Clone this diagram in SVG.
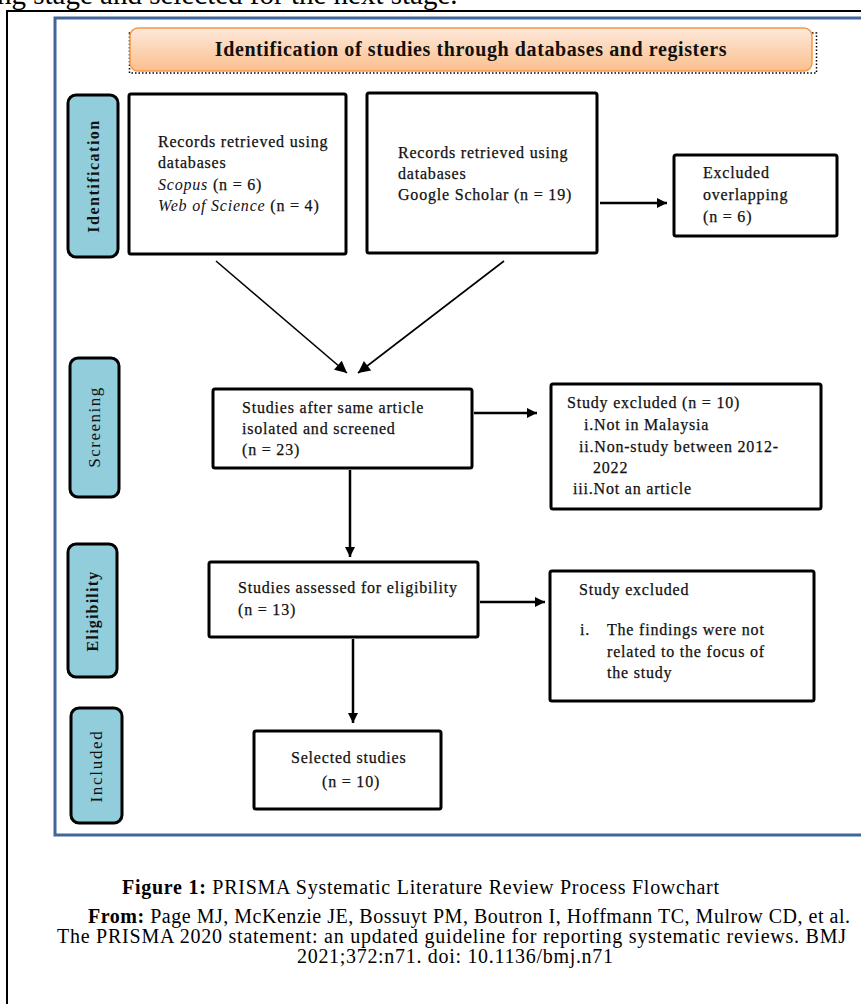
<svg xmlns="http://www.w3.org/2000/svg" width="861" height="1004" viewBox="0 0 861 1004">
<defs>
<style>
.t{font-family:"Liberation Serif","Times New Roman",serif;font-size:16px;letter-spacing:0.8px;fill:#111;stroke:#111;stroke-width:0.25px}
.box{fill:#fff;stroke:#000;stroke-width:3}
.lab{fill:#92cddc;stroke:#000;stroke-width:3}
.lt{font-family:"Liberation Serif","Times New Roman",serif;fill:#111;text-anchor:middle}
.arr{stroke:#000;stroke-width:2.5;fill:none}
.diag{stroke:#000;stroke-width:1.6;fill:none}
.cap{font-family:"Liberation Serif","Times New Roman",serif;font-size:20px;fill:#000}
</style>
<linearGradient id="hg" x1="0" y1="0" x2="0" y2="1">
<stop offset="0" stop-color="#fde9da"/>
<stop offset="1" stop-color="#fbbf8e"/>
</linearGradient>
<marker id="ah" viewBox="0 0 10 10" refX="10" refY="5" markerWidth="11" markerHeight="10" markerUnits="userSpaceOnUse" orient="auto">
<path d="M0,0 L10,5 L0,10 z" fill="#000"/>
</marker>
<marker id="ahd" viewBox="0 0 10 10" refX="10" refY="5" markerWidth="14" markerHeight="12" markerUnits="userSpaceOnUse" orient="auto">
<path d="M0,0 L10,5 L0,10 z" fill="#000"/>
</marker>
</defs>
<rect width="861" height="1004" fill="#fff"/>
<text x="-3" y="4" font-family="Liberation Serif, serif" font-size="29" fill="#000">ng stage and selected for the next stage.</text>
<rect x="7" y="11" width="900" height="1100" fill="none" stroke="#000" stroke-width="2"/>
<rect x="55" y="18" width="900" height="817" fill="none" stroke="#41679a" stroke-width="3"/>

<g id="header">
<rect x="129.5" y="33" width="687" height="40" fill="none" stroke="#000" stroke-width="1.5" stroke-dasharray="1.5 2"/>
<rect x="130" y="28" width="682" height="43" rx="8" fill="url(#hg)" stroke="#f79646" stroke-width="1.5"/>
<text x="471" y="56" text-anchor="middle" font-family="Liberation Serif, serif" font-size="20" font-weight="bold" letter-spacing="0.6" fill="#111">Identification of studies through databases and registers</text>
</g>

<g id="label-identification">
<rect class="lab" x="68" y="95" width="50" height="162" rx="8"/>
<text class="lt" transform="translate(99,176) rotate(-90)" font-size="16" font-weight="bold" letter-spacing="1.5">Identification</text>
</g>
<g id="label-screening">
<rect class="lab" x="70" y="358" width="49" height="139" rx="8"/>
<text class="lt" transform="translate(100,427) rotate(-90)" font-size="17" letter-spacing="1.5">Screening</text>
</g>
<g id="label-eligibility">
<rect class="lab" x="68" y="544" width="49" height="133" rx="8"/>
<text class="lt" transform="translate(98,611) rotate(-90)" font-size="16" font-weight="bold" letter-spacing="1.2">Eligibility</text>
</g>
<g id="label-included">
<rect class="lab" x="71" y="708" width="51" height="115" rx="8"/>
<text class="lt" transform="translate(102,766) rotate(-90)" font-size="17" letter-spacing="1.7">Included</text>
</g>

<g id="records-db">
<rect class="box" x="129" y="94" width="217" height="160" rx="2"/>
<text class="t" x="158" y="147">Records retrieved using</text>
<text class="t" x="158" y="168">databases</text>
<text class="t" x="158" y="190"><tspan font-style="italic" stroke-width="0">Scopus</tspan> (n = 6)</text>
<text class="t" x="158" y="211"><tspan font-style="italic" stroke-width="0">Web of Science</tspan> (n = 4)</text>
</g>
<g id="records-gs">
<rect class="box" x="367" y="93" width="230" height="160" rx="2"/>
<text class="t" x="398" y="158">Records retrieved using</text>
<text class="t" x="398" y="179">databases</text>
<text class="t" x="398" y="200">Google Scholar (n = 19)</text>
</g>
<g id="excluded-overlap">
<rect class="box" x="674" y="155" width="163" height="81" rx="2"/>
<text class="t" x="703" y="178">Excluded</text>
<text class="t" x="703" y="200">overlapping</text>
<text class="t" x="703" y="222">(n = 6)</text>
</g>
<g id="screened">
<rect class="box" x="213" y="389" width="259" height="79" rx="2"/>
<text class="t" x="242" y="413">Studies after same article</text>
<text class="t" x="242" y="434">isolated and screened</text>
<text class="t" x="242" y="455">(n = 23)</text>
</g>
<g id="excluded-screen">
<rect class="box" x="551" y="384" width="270" height="125" rx="2"/>
<text class="t" x="567" y="408">Study excluded (n = 10)</text>
<text class="t" x="584" y="430">i.Not in Malaysia</text>
<text class="t" x="579" y="452">ii.Non-study between 2012-</text>
<text class="t" x="593" y="473">2022</text>
<text class="t" x="573" y="494">iii.Not an article</text>
</g>
<g id="eligibility">
<rect class="box" x="209" y="562" width="269" height="75" rx="2"/>
<text class="t" x="238" y="593">Studies assessed for eligibility</text>
<text class="t" x="238" y="615">(n = 13)</text>
</g>
<g id="excluded-elig">
<rect class="box" x="550" y="571" width="264" height="130" rx="2"/>
<text class="t" x="579" y="595">Study excluded</text>
<text class="t" x="580" y="635">i.</text>
<text class="t" x="607" y="635">The findings were not</text>
<text class="t" x="607" y="657">related to the focus of</text>
<text class="t" x="607" y="678">the study</text>
</g>
<g id="selected">
<rect class="box" x="254" y="731" width="187" height="78" rx="2"/>
<text class="t" x="291" y="763">Selected studies</text>
<text class="t" x="322" y="787">(n = 10)</text>
</g>

<g id="connectors">
<line class="diag" x1="216" y1="261" x2="347" y2="373" marker-end="url(#ahd)"/>
<line class="diag" x1="504" y1="261" x2="358" y2="373" marker-end="url(#ahd)"/>
<line class="arr" x1="600" y1="203" x2="667" y2="203" marker-end="url(#ah)"/>
<line class="arr" x1="474" y1="413" x2="537" y2="413" marker-end="url(#ah)"/>
<line class="arr" x1="350" y1="470" x2="350" y2="557" marker-end="url(#ah)"/>
<line class="arr" x1="480" y1="602" x2="545" y2="602" marker-end="url(#ah)"/>
<line class="arr" x1="353" y1="639" x2="353" y2="723" marker-end="url(#ah)"/>
</g>

<g id="caption">
<text class="cap" x="122" y="894" font-size="19" textLength="597"><tspan font-weight="bold">Figure 1:</tspan> PRISMA Systematic Literature Review Process Flowchart</text>
<text class="cap" x="88" y="923" textLength="762"><tspan font-weight="bold">From:</tspan>  Page MJ, McKenzie JE, Bossuyt PM, Boutron I, Hoffmann TC, Mulrow CD, et al.</text>
<text class="cap" x="57" y="943" textLength="789">The PRISMA 2020 statement: an updated guideline for reporting systematic reviews. BMJ</text>
<text class="cap" x="297" y="963" textLength="316">2021;372:n71. doi: 10.1136/bmj.n71</text>
</g>
</svg>
